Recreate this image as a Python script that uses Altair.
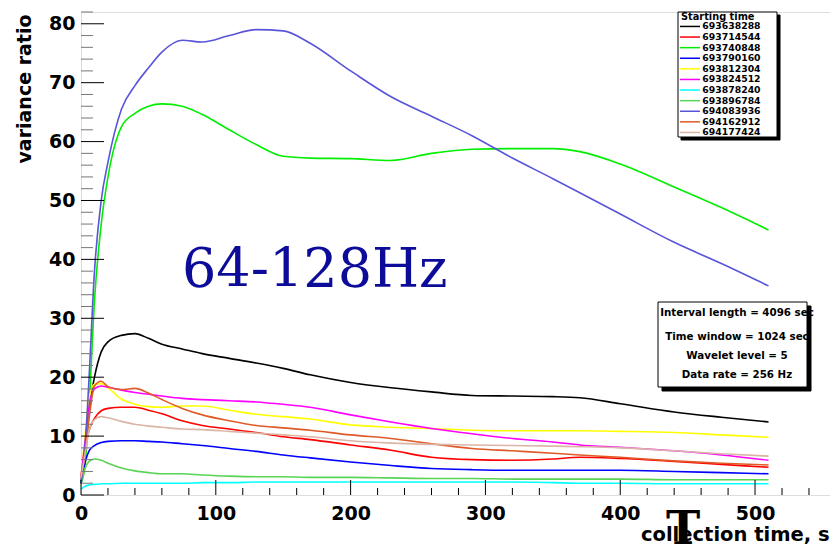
import altair as alt
import pandas as pd

# ---------------- data ----------------
t = [0, 3, 6, 10, 15, 20, 30, 40, 50, 60, 75, 90, 110, 130, 150, 170, 200,
     230, 260, 290, 320, 350, 370, 400, 440, 475, 510]

series_names = ["693638288", "693714544", "693740848", "693790160", "693812304",
                "693824512", "693878240", "693896784", "694083936", "694162912",
                "694177424"]

v_693638288 = [2, 8, 14.5, 20, 24.3, 26, 27.1, 27.4, 26.6, 25.6, 24.8, 24, 23.2, 22.4,
               21.5, 20.4, 19.1, 18.2, 17.5, 16.9, 16.8, 16.7, 16.5, 15.5, 14.1, 13.2, 12.4]
v_693714544 = [3, 8, 11, 13, 14.3, 14.7, 14.9, 14.9, 14.4, 13.8, 12.6, 11.8, 11.2, 10.6,
               9.9, 9.4, 8.5, 7.6, 6.4, 6.0, 5.9, 6.1, 6.4, 6.2, 5.7, 5.2, 4.7]
v_693740848 = [2, 5, 15, 33, 46, 54, 62.5, 64.8, 66, 66.4, 66, 64.6, 62, 59.5, 57.5,
               57.2, 57.1, 56.8, 58, 58.7, 58.8, 58.8, 58.3, 56.2, 52.3, 48.8, 45]
v_693790160 = [2, 5.5, 7.5, 8.4, 8.9, 9.1, 9.2, 9.2, 9.1, 9.0, 8.7, 8.4, 7.9, 7.4, 6.8,
               6.3, 5.6, 5.0, 4.5, 4.3, 4.2, 4.2, 4.2, 4.2, 4.0, 3.8, 3.6]
v_693812304 = [3, 10, 16.5, 18.8, 18.9, 18.2, 16.3, 15.4, 15.0, 14.9, 15.1, 15.1, 14.4,
               13.7, 13.3, 12.9, 11.9, 11.5, 11.3, 11.0, 10.9, 10.9, 10.9, 10.8, 10.6, 10.2, 9.8]
v_693824512 = [3, 9, 15, 18, 18.5, 18.3, 17.8, 17.4, 17.1, 16.8, 16.4, 16.2, 16.0, 15.8,
               15.4, 14.9, 13.6, 12.4, 11.3, 10.4, 9.6, 9.0, 8.5, 8.1, 7.5, 6.8, 5.9]
v_693878240 = [1.0, 1.5, 1.7, 1.8, 1.9, 1.9, 2.0, 2.0, 2.0, 2.0, 2.0, 2.1, 2.1, 2.2, 2.2,
               2.2, 2.2, 2.2, 2.2, 2.2, 2.2, 2.1, 2.0, 2.0, 1.9, 1.9, 1.9]
v_693896784 = [2, 4.5, 5.7, 6.1, 5.9, 5.4, 4.6, 4.1, 3.8, 3.6, 3.6, 3.4, 3.2, 3.1, 3.1,
               3.0, 3.0, 2.9, 2.8, 2.8, 2.7, 2.7, 2.7, 2.7, 2.6, 2.6, 2.6]
v_694083936 = [2, 8, 20, 38, 50, 56.5, 65.5, 69.5, 72.5, 75.2, 77.2, 76.9, 78, 79, 78.8,
               76.7, 72, 67.6, 64.3, 61, 57.2, 53.7, 51.3, 47.7, 42.9, 39.3, 35.5]
v_694162912 = [3, 7, 13, 18.5, 19.3, 18.4, 17.9, 18.1, 17.3, 16.2, 14.7, 13.6, 12.6, 11.8,
               11.4, 11.0, 10.2, 9.6, 8.7, 7.9, 7.5, 7.1, 6.8, 6.4, 5.8, 5.4, 5.1]
v_694177424 = [3, 7, 11, 12.8, 13.3, 13.1, 12.5, 12.0, 11.7, 11.5, 11.2, 11.1, 10.8, 10.5,
               10.2, 9.9, 9.2, 8.8, 8.6, 8.5, 8.4, 8.3, 8.2, 8.0, 7.5, 7.0, 6.6]

series_colors = ["#000000", "#ff0000", "#00ee00", "#0000ff", "#ffff00", "#ff00ff",
                 "#00ffff", "#59d454", "#5954d9", "#e05a28", "#dbb4a6"]

info_lines = ["Interval length = 4096 sec", "Time window = 1024 sec",
              "Wavelet level = 5", "Data rate = 256 Hz"]

x_major = [0, 100, 200, 300, 400, 500]
x_minor = [v for v in range(0, 556, 20) if v % 100]
y_major = list(range(0, 81, 10))
y_minor = [v for v in range(0, 83, 2) if v % 10]

all_values = [v_693638288, v_693714544, v_693740848, v_693790160, v_693812304,
              v_693824512, v_693878240, v_693896784, v_694083936, v_694162912,
              v_694177424]

rows = []
for name, vals in zip(series_names, all_values):
    for ti, vi in zip(t, vals):
        rows.append({"t": ti, "v": vi, "series": name})
df = pd.DataFrame(rows)

# ---------------- layout ----------------
W, H = 749, 483
FONT = "DejaVu Sans"
xs = alt.Scale(domain=[0, 555.6], nice=False, zero=False)
ys = alt.Scale(domain=[0, 82], nice=False)

ax_x = alt.Axis(
    values=x_major, ticks=False, domain=False, grid=False, labelFlush=False,
    labelFont=FONT, labelFontSize=19, labelFontWeight="bold", labelColor="black",
    labelPadding=9, title="collection time, s", titleFont=FONT, titleFontSize=19.5,
    titleFontWeight="bold", titleColor="black", titleX=748, titleY=45,
    titleAlign="right", titleBaseline="alphabetic")
ax_y = alt.Axis(
    values=y_major, ticks=False, domain=False, grid=False, labelFlush=False,
    labelFont=FONT, labelFontSize=19, labelFontWeight="bold", labelColor="black",
    labelPadding=6, title="variance ratio", titleFont=FONT, titleFontSize=19,
    titleFontWeight="bold", titleColor="black", titleAngle=-90, titleX=-66,
    titleY=2, titleAlign="right", titleBaseline="top")

lines = alt.Chart(df).mark_line(strokeWidth=1.6, interpolate="monotone").encode(
    x=alt.X("t:Q", scale=xs, axis=ax_x, title="collection time, s"),
    y=alt.Y("v:Q", scale=ys, axis=ax_y, title="variance ratio"),
    color=alt.Color("series:N", scale=alt.Scale(domain=series_names, range=series_colors),
                    legend=alt.Legend(
                        orient="none", legendX=598, legendY=-2, title="Starting time",
                        titleFont=FONT, titleFontSize=9.8, titleFontWeight="bold",
                        titleColor="black", titlePadding=0, labelFont=FONT,
                        labelFontSize=9.3, labelFontWeight="bold", labelColor="black",
                        symbolType="M-2.86,0H2.86", symbolSize=49, symbolStrokeWidth=1.5,
                        symbolOffset=4.35, labelOffset=7.7, rowPadding=0.6, padding=2)),
)

one = pd.DataFrame({"a": [0]})

def tick_layer(vals, horizontal, length, color):
    base = alt.Chart(pd.DataFrame({"p": vals})).mark_rule(color=color, strokeWidth=1)
    if horizontal:
        return base.encode(y=alt.Y("p:Q", scale=ys, axis=ax_y, title="variance ratio"),
                           x=alt.value(0), x2=alt.value(length))
    return base.encode(x=alt.X("p:Q", scale=xs, axis=ax_x, title="collection time, s"),
                       y=alt.value(H), y2=alt.value(H - length))

ticks = [tick_layer(y_major, True, 23, "black"), tick_layer(y_minor, True, 12, "#777777"),
         tick_layer(x_major, False, 15, "black"), tick_layer(x_minor, False, 7, "black")]

def box(x1, x2, y1, y2, fill, stroke):
    return alt.Chart(one).mark_rect(fill=fill, stroke=stroke, strokeWidth=1).encode(
        x=alt.value(x1), x2=alt.value(x2), y=alt.value(y1), y2=alt.value(y2))

legend_shadow = box(600, 699, 3, 128, "black", "black")
legend_box = box(597, 696, 0, 125, "white", "black")
info_shadow = box(581, 730, 294, 379, "black", "black")
info_box = box(577, 726, 290, 375, "white", "black")

info_texts = [
    alt.Chart(one).mark_text(font=FONT, fontSize=10.3, fontWeight="bold", color="black",
                             align="center", baseline="middle").encode(
        x=alt.value(656), y=alt.value(yy), text=alt.value(txt))
    for txt, yy in zip(info_lines, [301, 325, 344, 363])
]

band_label = alt.Chart(one).mark_text(font="DejaVu Serif", fontSize=54, color="#0c0c99",
                                      align="left", baseline="alphabetic").encode(
    x=alt.value(101), y=alt.value(275), text=alt.value("64-128Hz"))

big_t = alt.Chart(one).mark_text(font="DejaVu Serif", fontSize=46, fontWeight="bold",
                                 color="black", align="center",
                                 baseline="alphabetic").encode(
    x=alt.value(602), y=alt.value(532), text=alt.value("T"))

chart = alt.layer(
    lines, *ticks, legend_shadow, legend_box, info_shadow, info_box, *info_texts,
    band_label, big_t
).properties(
    width=W, height=H,
    padding={"left": 73, "top": 4, "right": 0, "bottom": 52},
    autosize=alt.AutoSizeParams(type="none"),
).configure_view(stroke="black", strokeWidth=1).configure(background="white")

chart.save("out.html", embed_options={"renderer": "svg", "actions": False})
